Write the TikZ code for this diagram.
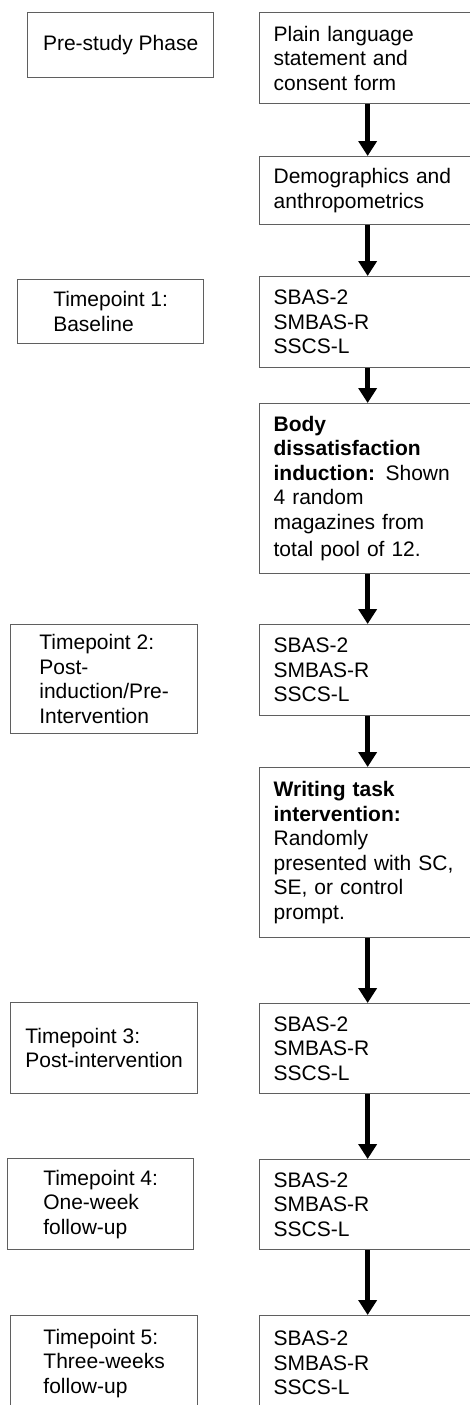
\documentclass[tikz,border=0pt]{standalone}
\usepackage{fontspec}
\setmainfont{Liberation Sans}
\usetikzlibrary{arrows.meta}
\definecolor{boxgray}{HTML}{5F5F5F}
\tikzset{
  box/.style={draw=boxgray, line width=1.3pt, font=\fontsize{21pt}{24.5pt}\selectfont, inner sep=0pt, anchor=north west, align=left},
  lbox/.style={box},
  rbox/.style={box, text width=188pt, inner xsep=14pt, minimum width=216pt},
  arr/.style={line width=5pt, -{Triangle[width=18pt,length=15pt]}}
}
\begin{document}
\begin{tikzpicture}[x=1pt,y=-1pt]
\useasboundingbox (0,0) rectangle (470,1405);
\clip (0,0) rectangle (470,1405);
% left column
\node[lbox, minimum width=186pt, minimum height=65pt] (pre) at (27,12) {Pre-study Phase};
\node[lbox, minimum width=186pt, minimum height=64pt] (tp1) at (17,279) {Timepoint 1:\\Baseline};
\node[lbox, minimum width=187pt, minimum height=109pt] (tp2) at (10,624) {Timepoint 2:\\Post-\\induction/Pre-\\Intervention};
\node[lbox, minimum width=187pt, minimum height=91pt] (tp3) at (10,1002) {Timepoint 3:\\Post-intervention};
\node[lbox, minimum width=186pt, minimum height=91pt] (tp4) at (7,1158) {Timepoint 4:\\One-week\\follow-up};
\node[lbox, minimum width=187pt, minimum height=95pt] (tp5) at (10,1315) {Timepoint 5:\\Three-weeks\\follow-up};
% right column
\node[rbox, minimum height=91pt] (r1) at (259,12) {Plain language\\statement and\\consent form};
\node[rbox, minimum height=68pt] (r2) at (259,156) {Demographics and\\anthropometrics};
\node[rbox, minimum height=91pt] (r3) at (259,276) {SBAS-2\\SMBAS-R\\SSCS-L};
\node[rbox, minimum height=170pt] (r4) at (259,403) {\textbf{Body}\\\textbf{dissatisfaction}\\\textbf{induction:} Shown\\4 random\\magazines from\\[3pt]total pool of 12.};
\node[rbox, minimum height=91pt] (r5) at (259,624) {SBAS-2\\SMBAS-R\\SSCS-L};
\node[rbox, minimum height=170pt] (r6) at (259,767) {\textbf{Writing task}\\\textbf{intervention:}\\Randomly\\presented with SC,\\SE, or control\\prompt.};
\node[rbox, minimum height=90pt] (r7) at (259,1003) {SBAS-2\\SMBAS-R\\SSCS-L};
\node[rbox, minimum height=90pt] (r8) at (259,1159) {SBAS-2\\SMBAS-R\\SSCS-L};
\node[rbox, minimum height=95pt] (r9) at (259,1315) {SBAS-2\\SMBAS-R\\SSCS-L};
% arrows
\draw[arr] (r1.south) -- (r2.north);
\draw[arr] (r2.south) -- (r3.north);
\draw[arr] (r3.south) -- (r4.north);
\draw[arr] (r4.south) -- (r5.north);
\draw[arr] (r5.south) -- (r6.north);
\draw[arr] (r6.south) -- (r7.north);
\draw[arr] (r7.south) -- (r8.north);
\draw[arr] (r8.south) -- (r9.north);
\end{tikzpicture}
\end{document}
